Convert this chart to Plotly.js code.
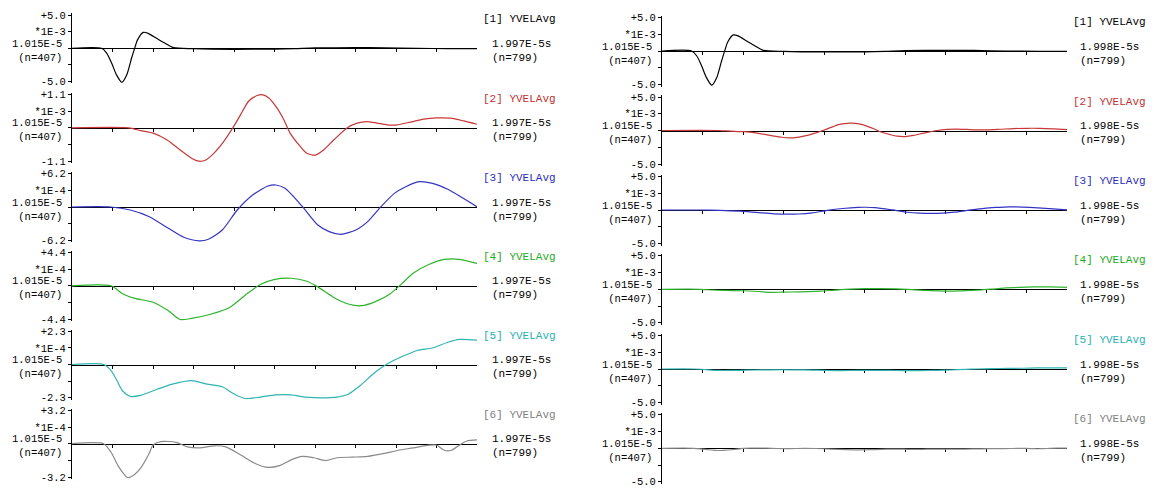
<!DOCTYPE html>
<html>
<head>
<meta charset="utf-8">
<script src="https://cdn.plot.ly/plotly-3.0.1.min.js"></script>
<style>
html,body{margin:0;padding:0;background:#fff;}
#chart{width:1154px;height:489px;}
</style>
</head>
<body>
<div id="chart"></div>
<script>
// ---- Data (time axis in tick units 0..10, amplitudes in panel units) ----
const channelNames = ["[1] YVELAvg","[2] YVELAvg","[3] YVELAvg","[4] YVELAvg","[5] YVELAvg","[6] YVELAvg"];
const channelColors = ["#000000","#c83838","#3434c4","#2eb42e","#30b4b4","#8a8a8a"];
const labelColors = ["#000000","#c03030","#2c2cbc","#22aa22","#28b0b0","#808080"];
const unitExp = [1e-3,1e-3,1e-4,1e-4,1e-4,1e-4];
const unitText = ["*1E-3","*1E-3","*1E-4","*1E-4","*1E-4","*1E-4"];
const leftMax = [5.0,1.1,6.2,4.4,2.3,3.2];
const rightMax = 5.0;
const rightUnitText = "*1E-3";
const baselineText = "1.015E-5";
const startCountText = "(n=407)";
const leftEndText = "1.997E-5s";
const rightEndText = "1.998E-5s";
const endCountText = "(n=799)";
const timeTicks = [1,2,3,4,5,6,7,8,9];

const t1 = [0,0.73,0.86,0.98,1.10,1.23,1.35,1.47,1.56,1.62,1.76,1.88,2.09,2.30,2.50,3.0,4.0,5.0,5.5,6.0,7.0,7.7,8.5,9.3,10.0];
const v1 = [0,0,-0.75,-2.25,-4.0,-5.1,-4.0,-1.5,0.25,1.3,2.4,2.25,1.5,0.75,0.1,-0.05,-0.15,-0.12,-0.05,0.05,0.1,0.08,0,-0.05,-0.05];

const t2 = [0,1.40,1.69,2.02,2.35,2.67,2.96,3.13,3.29,3.50,3.74,3.99,4.16,4.36,4.57,4.69,4.86,5.06,5.23,5.39,5.64,5.80,6.01,6.21,6.46,6.79,7.04,7.28,7.53,7.78,8.02,8.35,8.68,9.01,9.34,9.67,10.0];
const v2 = [0,0,-0.09,-0.18,-0.4,-0.73,-1.01,-1.1,-1.07,-0.84,-0.46,0.04,0.43,0.88,1.07,1.1,0.99,0.66,0.27,-0.18,-0.62,-0.84,-0.9,-0.73,-0.4,0,0.16,0.21,0.16,0.1,0.1,0.19,0.29,0.33,0.32,0.23,0.12];

const t3 = [0,0.96,1.44,1.91,2.38,2.76,3.14,3.37,3.71,4.08,4.46,4.84,5.03,5.26,5.69,6.07,6.35,6.64,7.01,7.30,7.63,7.96,8.24,8.57,8.90,9.28,9.66,10.0];
const v3 = [0,0,-0.56,-1.8,-3.97,-5.64,-6.3,-6.0,-4.28,-0.56,2.23,3.91,4.1,3.47,0.06,-3.35,-4.59,-5.08,-4.28,-2.73,0.06,2.54,3.78,4.71,4.4,3.29,1.61,0.06];

const t4 = [0,0.96,1.25,1.53,2.0,2.38,2.67,2.95,3.42,3.89,4.27,4.65,5.01,5.41,5.78,6.07,6.45,6.82,7.15,7.49,7.86,8.15,8.43,8.81,9.19,9.57,10.0];
const v4 = [0,0,-1.04,-1.63,-2.18,-3.31,-4.45,-4.31,-3.76,-2.86,-1.27,0.18,0.86,1.0,0.64,-0.14,-1.5,-2.4,-2.63,-2.09,-1.04,0.32,1.68,2.81,3.49,3.49,2.95];

const t5 = [0,0.78,0.96,1.11,1.25,1.44,1.72,2.10,2.48,2.95,3.33,3.71,3.99,4.27,4.65,5.03,5.41,5.78,6.16,6.54,6.82,7.11,7.49,7.77,8.15,8.53,8.90,9.28,9.57,10.0];
const v5 = [0,0,-0.4,-1.11,-1.83,-2.2,-2.11,-1.71,-1.35,-1.11,-1.35,-1.54,-2.02,-2.35,-2.25,-2.1,-2.1,-2.25,-2.3,-2.25,-2.05,-1.47,-0.52,0.02,0.55,0.97,1.14,1.54,1.73,1.68];

const t6 = [0,0.78,0.96,1.15,1.30,1.37,1.53,1.72,1.91,2.0,2.19,2.57,2.85,3.14,3.52,3.80,4.18,4.55,4.84,5.12,5.41,5.69,5.97,6.26,6.54,6.92,7.30,7.68,8.06,8.43,8.81,9.0,9.19,9.37,9.57,9.75,10.0];
const v6 = [0,0,-0.8,-2.2,-3.0,-3.25,-3.0,-2.2,-0.9,-0.13,0.2,0.13,-0.3,-0.4,-0.2,-0.3,-1.12,-1.95,-2.28,-2.11,-1.55,-1.22,-1.35,-1.62,-1.35,-1.29,-1.22,-0.96,-0.63,-0.4,-0.13,-0.13,-0.63,-0.63,-0.13,0.26,0.36];

const times = [t1,t2,t3,t4,t5,t6];
const values = [v1,v2,v3,v4,v5,v6];

// ---- Layout geometry (pixels) ----
const W = 1154, H = 489;
const colX = [[72,477],[662,1067]];
const colZero = [[48.3,127.9,207,285.8,364.5,443.7],[51,130.5,210,289.3,369,448.3]];
const colHalf = [35,35.5];     // half height of each panel's axis line
const tickHalf = [33.3,33.5];  // where the +/- full-scale ticks sit
const nameX = [558,1148];
const endX = [490,1078];
const FONT = "Liberation Mono, DejaVu Sans Mono, monospace";
const FS = 11;
const TFS = 10.5;

const traces = [];
const layout = {
  width: W, height: H,
  margin: {l:0,r:0,t:0,b:0},
  paper_bgcolor: "#fff", plot_bgcolor: "rgba(0,0,0,0)",
  showlegend: false,
  font: {family: FONT, size: FS, color: "#000"},
  annotations: []
};

function fmt(v){ return v.toFixed(1); }

for (let col = 0; col < 2; col++) {
  for (let k = 0; k < 6; k++) {
    const idx = col*6 + k + 1;
    const Z = colZero[col][k], h = colHalf[col];
    const A = col === 0 ? leftMax[k]*unitExp[k] : rightMax*1e-3;
    const R = A * h / tickHalf[col];
    const topTxt = col === 0 ? "+" + fmt(leftMax[k]) : "+" + fmt(rightMax);
    const botTxt = col === 0 ? "-" + fmt(leftMax[k]) : "-" + fmt(rightMax);
    const uTxt = col === 0 ? unitText[k] : rightUnitText;

    layout["xaxis"+idx] = {
      domain: [colX[col][0]/W, colX[col][1]/W],
      range: [0,10], anchor: "free", position: 1 - Z/H,
      showline: true, linecolor: "#000", linewidth: 1,
      ticks: "outside", ticklen: 3, tickwidth: 1, tickcolor: "#000",
      tickvals: timeTicks, showticklabels: false,
      showgrid: false, zeroline: false, layer: "below traces", fixedrange: true
    };
    layout["yaxis"+idx] = {
      domain: [1-(Z+h)/H, 1-(Z-h)/H],
      range: [-R, R], anchor: "x"+idx,
      showline: true, linecolor: "#000", linewidth: 1,
      ticks: "outside", ticklen: 3, tickwidth: 1, tickcolor: "#000",
      tickvals: [A, A/2, 0, -A/2, -A],
      ticktext: [topTxt, uTxt, "", "", botTxt],
      tickfont: {family: FONT, size: TFS, color: "#000"},
      showgrid: false, zeroline: false, fixedrange: true
    };
    traces.push({
      type: "scatter", mode: "lines",
      x: times[k], y: values[k].map(v => v*unitExp[k]),
      xaxis: "x"+idx, yaxis: "y"+idx,
      line: {color: channelColors[k], width: 1.2, shape: "spline", smoothing: 0.7},
      hoverinfo: "skip", cliponaxis: false
    });
    // zero-line label block on the left of the axis
    layout.annotations.push({
      xref: "paper", yref: "paper",
      x: (colX[col][0]-8)/W, y: 1-(Z+2.5)/H,
      xanchor: "right", yanchor: "middle", align: "right", showarrow: false,
      text: baselineText + "<br>" + startCountText,
      font: {family: FONT, size: TFS, color: "#000"}
    });
    layout.annotations.push({
      xref: "paper", yref: "paper",
      x: nameX[col]/W, y: 1-(Z-29)/H,
      xanchor: "right", yanchor: "middle", showarrow: false,
      text: channelNames[k],
      font: {family: FONT, size: FS, color: labelColors[k]}
    });
    layout.annotations.push({
      xref: "paper", yref: "paper",
      x: endX[col]/W, y: 1-(Z+2.5)/H,
      xanchor: "left", yanchor: "middle", align: "left", showarrow: false,
      text: (col === 0 ? leftEndText : rightEndText) + "<br>" + endCountText,
      font: {family: FONT, size: FS, color: "#000"}
    });
  }
}

Plotly.newPlot("chart", traces, layout, {staticPlot: true, displayModeBar: false});
</script>
</body>
</html>
